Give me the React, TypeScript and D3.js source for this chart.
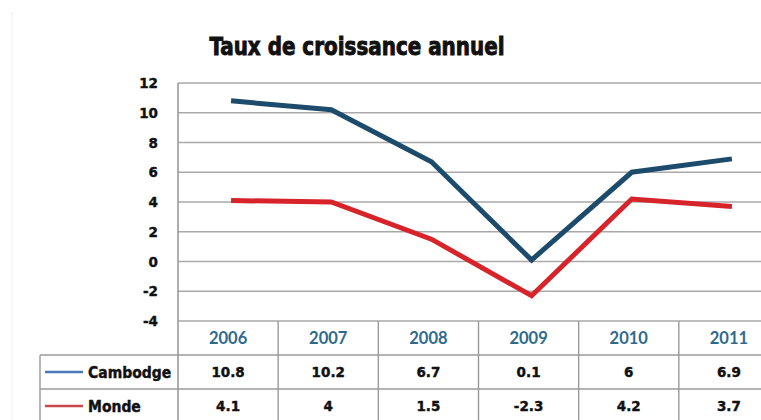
import React from "react";
import * as d3 from "d3";

const years = ["2006", "2007", "2008", "2009", "2010", "2011"];
const cambodge = [10.8, 10.2, 6.7, 0.1, 6, 6.9];
const monde = [4.1, 4, 1.5, -2.3, 4.2, 3.7];
const yTicks = [12, 10, 8, 6, 4, 2, 0, -2, -4];
const seriesNames = ["Cambodge", "Monde"];

const W = 761;
const H = 420;

export default function App() {
  const x = d3.scaleBand<string>().domain(years).range([178, 779]).paddingInner(0).paddingOuter(0);
  const y = d3.scaleLinear().domain([-4, 12]).range([321, 83]);
  const line = d3
    .line<number>()
    .x((_, i) => (x(years[i]) as number) + x.bandwidth() / 2 + 3)
    .y((d) => y(d));

  const series = [
    { name: seriesNames[0], values: cambodge, color: "#1d4b6b", legend: "#4a78bb" },
    { name: seriesNames[1], values: monde, color: "#d7242b", legend: "#c8474a" },
  ];

  const rowTop = [355, 389];
  const rowH = 34;
  const tableBottom = 430;
  const grid = "#a9a9a9";
  const border = "#9a9a9a";
  const boldFont = "'DejaVu Sans', sans-serif";

  return (
    <svg width={W} height={H} style={{ position: "absolute", left: 0, top: 0, background: "#fff" }}>
      <rect x={0} y={0} width={W} height={H} fill="#fff" />
      <line x1={12} y1={12} x2={12} y2={H} stroke="#eeeeee" strokeWidth={1} />
      <text
        x={357}
        y={55}
        textAnchor="middle"
        fontFamily="'DejaVu Sans Condensed', 'DejaVu Sans', sans-serif"
        fontWeight="bold"
        fontSize={25}
        textLength={295}
        lengthAdjust="spacingAndGlyphs"
        fill="#111"
        stroke="#111"
        strokeWidth={0.9}
      >
        Taux de croissance annuel
      </text>

      {yTicks.map((t) => (
        <g key={t}>
          <line x1={178} x2={W} y1={y(t)} y2={y(t)} stroke={grid} strokeWidth={1.6} />
          <text
            x={158}
            y={y(t) + 5}
            textAnchor="end"
            fontFamily={boldFont}
            fontWeight="bold"
            fontSize={13.5}
            fill="#111"
            stroke="#111"
            strokeWidth={0.4}
          >
            {t}
          </text>
        </g>
      ))}

      <line x1={178} x2={178} y1={83} y2={tableBottom} stroke={border} strokeWidth={1.6} />

      {years.map((yr, i) => {
        const x0 = x(yr) as number;
        return (
          <g key={yr}>
            {i > 0 && <line x1={x0} x2={x0} y1={321} y2={tableBottom} stroke={border} strokeWidth={1.4} />}
            <text
              x={x0 + x.bandwidth() / 2}
              y={344}
              textAnchor="middle"
              fontFamily="Lato, 'Open Sans', sans-serif"
              fontWeight={700}
              fontSize={16.5}
              fill="#2e6a8e"
            >
              {yr}
            </text>
            {series.map((s, r) => (
              <text
                key={s.name}
                x={x0 + x.bandwidth() / 2}
                y={rowTop[r] + 22}
                textAnchor="middle"
                fontFamily={boldFont}
                fontWeight="bold"
                fontSize={13.5}
                fill="#111"
                stroke="#111"
                strokeWidth={0.4}
              >
                {s.values[i]}
              </text>
            ))}
          </g>
        );
      })}
      <line x1={40} x2={W} y1={rowTop[0]} y2={rowTop[0]} stroke={border} strokeWidth={1.4} />
      <line x1={40} x2={W} y1={rowTop[1]} y2={rowTop[1]} stroke={border} strokeWidth={1.4} />
      <line x1={40} x2={40} y1={rowTop[0]} y2={tableBottom} stroke={border} strokeWidth={1.4} />

      {series.map((s, r) => (
        <g key={s.name}>
          <line x1={45} x2={83} y1={rowTop[r] + rowH / 2} y2={rowTop[r] + rowH / 2} stroke={s.legend} strokeWidth={2.5} />
          <text
            x={88}
            y={rowTop[r] + 23}
            fontFamily="'DejaVu Sans Condensed', 'DejaVu Sans', sans-serif"
            fontWeight="bold"
            fontSize={15.5}
            fill="#111"
            stroke="#111"
            strokeWidth={0.4}
          >
            {s.name}
          </text>
        </g>
      ))}

      {series.map((s) => (
        <path
          key={s.name}
          d={line(s.values) as string}
          fill="none"
          stroke={s.color}
          strokeWidth={5}
          strokeLinejoin="miter"
        />
      ))}
    </svg>
  );
}
